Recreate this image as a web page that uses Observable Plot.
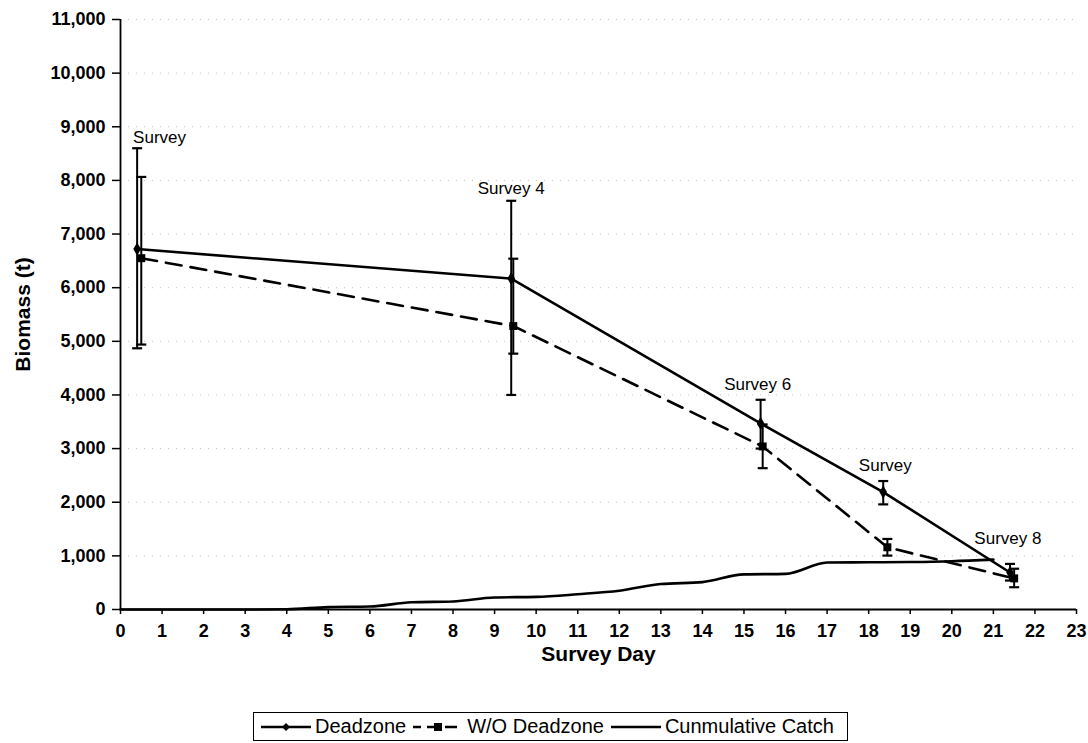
<!DOCTYPE html>
<html><head><meta charset="utf-8">
<script src="https://cdn.jsdelivr.net/npm/d3@7"></script>
<script src="https://cdn.jsdelivr.net/npm/@observablehq/plot@0.6"></script>
<style>
body{margin:0;background:#fff;font-family:"Liberation Sans",Arial,sans-serif;}
#wrap{position:relative;width:1088px;height:743px;}
#legend{position:absolute;left:253px;top:712px;width:595px;height:29px;border:1.5px solid #000;box-sizing:border-box;display:flex;align-items:center;font-size:20px;color:#000;white-space:nowrap;}
#legend .it{display:flex;align-items:center;margin-left:6px;}
#legend svg{margin-right:3px;}
#chart g[aria-label="x-axis tick label"] text,
#chart g[aria-label="y-axis tick label"] text{font-size:18px !important;font-weight:bold !important;}
</style></head>
<body><div id="wrap"><div id="chart"></div><div id="legend"></div></div>
<script>
// Tick labels
const xTicks = d3.range(0, 24);
const yTicks = d3.range(0, 12000, 1000);

// Deadzone series (solid, diamonds)
const dzDay = [0.4, 9.4, 15.4, 18.35, 21.4];
const dzVal = [6720, 6170, 3470, 2190, 690];
const dzLo  = [4870, 4000, 3000, 1960, 540];
const dzHi  = [8600, 7620, 3910, 2395, 850];

// W/O Deadzone series (dashed, squares)
const woDay = [0.5, 9.45, 15.45, 18.45, 21.5];
const woVal = [6550, 5285, 3040, 1160, 580];
const woLo  = [4940, 4770, 2635, 1005, 415];
const woHi  = [8065, 6540, 3450, 1315, 760];

// Cumulative catch by day
const catchDay = d3.range(0, 22);
const catchVal = [0, 0, 0, 0, 5, 45, 55, 135, 150, 225, 235, 285, 350, 475, 510, 655, 665, 875, 880, 885, 900, 930];

// Survey annotations
const noteText = ["Survey", "Survey 4", "Survey 6", "Survey", "Survey 8"];
const noteDay  = [0.94, 9.4, 15.33, 18.4, 21.35];
const noteVal  = [8800, 7850, 4200, 2680, 1330];

const dz = dzDay.map((x, i) => ({x, y: dzVal[i], lo: dzLo[i], hi: dzHi[i]}));
const wo = woDay.map((x, i) => ({x, y: woVal[i], lo: woLo[i], hi: woHi[i]}));
const cc = catchDay.map((x, i) => ({x, y: catchVal[i]}));
const notes = noteText.map((t, i) => ({t, x: noteDay[i], y: noteVal[i]}));
const caps = [...dz, ...wo].flatMap(d => [{x: d.x, y: d.lo}, {x: d.x, y: d.hi}]);
const capHalf = 0.12;

const chart = Plot.plot({
  width: 1088, height: 705,
  marginLeft: 120, marginRight: 12, marginTop: 19, marginBottom: 96,
  x: {domain: [0, 23]},
  y: {domain: [0, 11000]},
  style: {fontFamily: "Liberation Sans, Arial, sans-serif", fontSize: "18px", fontWeight: "bold", color: "#000", background: "#fff"},
  marks: [
    Plot.gridY(yTicks, {stroke: "#888", strokeOpacity: 0.5, strokeDasharray: "1,7"}),
    Plot.axisX({ticks: xTicks, tickSize: 5, tickPadding: 10, fontSize: 18, label: null, stroke: "#000", strokeWidth: 1.5}),
    Plot.axisY({ticks: yTicks, tickSize: 8, tickPadding: 7, fontSize: 18, tickFormat: d3.format(","), label: null, stroke: "#000", strokeWidth: 1.5}),
    Plot.ruleY([0], {stroke: "#000", strokeWidth: 1.8}),
    Plot.ruleX([0], {stroke: "#000", strokeWidth: 1.8}),
    Plot.line(cc, {x: "x", y: "y", stroke: "#000", strokeWidth: 2.6, curve: "monotone-x"}),
    Plot.ruleX([...dz, ...wo], {x: "x", y1: "lo", y2: "hi", stroke: "#000", strokeWidth: 2}),
    Plot.link(caps, {x1: d => d.x - capHalf, x2: d => d.x + capHalf, y1: "y", y2: "y", stroke: "#000", strokeWidth: 2.2}),
    Plot.line(wo, {x: "x", y: "y", stroke: "#000", strokeWidth: 2.6, strokeDasharray: "16,9"}),
    Plot.line(dz, {x: "x", y: "y", stroke: "#000", strokeWidth: 2.6}),
    Plot.dot(dz, {x: "x", y: "y", symbol: "diamond", r: 4, fill: "#000"}),
    Plot.dot(wo, {x: "x", y: "y", symbol: "square", r: 4.5, fill: "#000"}),
    Plot.text(notes, {x: "x", y: "y", text: "t", textAnchor: "middle", fontSize: 17, fontWeight: "normal", fill: "#000"}),
    Plot.text(["Biomass (t)"], {frameAnchor: "left", rotate: -90, dx: -97, textAnchor: "middle", lineAnchor: "middle", fontSize: 21, fontWeight: "bold", fill: "#000"}),
    Plot.text(["Survey Day"], {frameAnchor: "bottom", dy: 45, textAnchor: "middle", lineAnchor: "middle", fontSize: 21, fontWeight: "bold", fill: "#000"})
  ]
});
document.getElementById("chart").appendChild(chart);

// Legend
const legendItems = [
  {label: "Deadzone", dash: null, sym: "diamond"},
  {label: "W/O Deadzone", dash: "12,6", sym: "square"},
  {label: "Cunmulative Catch", dash: null, sym: null}
];
const lg = document.getElementById("legend");
for (const it of legendItems) {
  const div = document.createElement("div");
  div.className = "it";
  let mk = "";
  if (it.sym === "diamond") mk = '<path d="M26,10 L30,14 L26,18 L22,14 Z" fill="#000"/>';
  if (it.sym === "square") mk = '<rect x="22" y="10" width="8" height="8" fill="#000"/>';
  div.innerHTML = '<svg width="52" height="28"><line x1="1" y1="14" x2="51" y2="14" stroke="#000" stroke-width="2.4"' +
    (it.dash ? ' stroke-dasharray="' + it.dash + '" stroke-dashoffset="-14"' : '') + '/>' + mk + '</svg><span>' + it.label + '</span>';
  lg.appendChild(div);
}
</script></body></html>
